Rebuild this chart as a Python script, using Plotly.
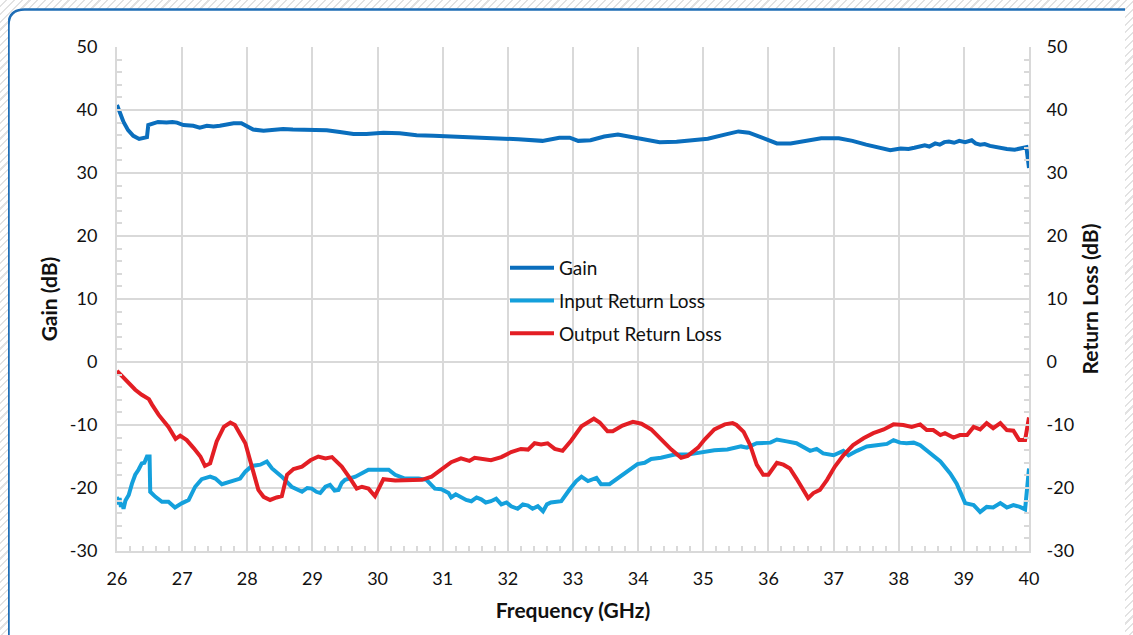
import plotly.graph_objects as go

# ---------------- data ----------------
gain_f = [26.0, 26.1, 26.17, 26.25, 26.34, 26.46, 26.48, 26.55, 26.63, 26.76, 26.85, 26.92, 27.02, 27.17,
          27.27, 27.38, 27.48, 27.58, 27.7, 27.79, 27.91, 27.99, 28.09, 28.25, 28.4, 28.55, 28.7, 28.81,
          29.01, 29.22, 29.42, 29.63, 29.83, 30.09, 30.34, 30.6, 30.86, 31.11, 31.37, 31.62, 31.89, 32.16,
          32.53, 32.79, 32.95, 33.08, 33.27, 33.48, 33.69, 33.9, 34.12, 34.33, 34.59, 34.86, 35.07, 35.33,
          35.54, 35.7, 35.92, 36.13, 36.34, 36.55, 36.81, 37.08, 37.29, 37.5, 37.71, 37.87, 38.03, 38.15,
          38.24, 38.32, 38.4, 38.47, 38.56, 38.63, 38.7, 38.77, 38.85, 38.93, 39.02, 39.12, 39.18, 39.25,
          39.32, 39.4, 39.48, 39.57, 39.66, 39.78, 39.88, 39.96, 40.0]
gain_db = [40.8, 38.1, 36.8, 35.9, 35.4, 35.7, 37.6, 37.9, 38.1, 38.0, 38.1, 38.0, 37.6, 37.5,
           37.2, 37.5, 37.4, 37.5, 37.7, 37.9, 37.9, 37.5, 36.9, 36.7, 36.8, 37.0, 36.9, 36.9,
           36.8, 36.8, 36.5, 36.2, 36.2, 36.4, 36.3, 36.0, 35.9, 35.8, 35.7, 35.7, 35.6, 35.35,
           35.1, 35.6, 35.6, 35.1, 35.2, 35.8, 36.1, 35.7, 35.2, 34.9, 34.97, 35.2, 35.45, 36.1,
           36.6, 36.4, 35.45, 34.7, 34.7, 35.1, 35.5, 35.5, 35.1, 34.5, 33.9, 33.6, 33.9, 33.8,
           34.0, 34.2, 34.4, 34.2, 34.7, 34.5, 34.9, 35.0, 34.8, 35.1, 34.9, 35.2, 34.7, 34.5,
           34.6, 34.3, 34.1, 33.9, 33.8, 33.7, 33.9, 34.1, 30.8]

irl_f = [26.0, 26.02, 26.04, 26.06, 26.08, 26.1, 26.13, 26.18, 26.23, 26.28, 26.33, 26.38, 26.42, 26.46,
         26.5, 26.51, 26.59, 26.69, 26.79, 26.89, 27.0, 27.1, 27.2, 27.3, 27.43, 27.51, 27.61, 27.76,
         27.89, 27.97, 28.07, 28.2, 28.3, 28.38, 28.53, 28.68, 28.84, 28.92, 28.99, 29.06, 29.12, 29.2,
         29.27, 29.34, 29.4, 29.45, 29.5, 29.66, 29.86, 30.01, 30.17, 30.27, 30.42, 30.63, 30.75, 30.88,
         30.98, 31.09, 31.13, 31.2, 31.28, 31.36, 31.44, 31.52, 31.59, 31.66, 31.74, 31.82, 31.9, 31.98,
         32.05, 32.15, 32.23, 32.31, 32.38, 32.46, 32.54, 32.6, 32.66, 32.82, 32.95, 33.05, 33.13, 33.23,
         33.36, 33.43, 33.56, 33.69, 33.79, 33.89, 33.99, 34.1, 34.2, 34.35, 34.56, 34.76, 34.96, 35.17,
         35.37, 35.58, 35.67, 35.82, 36.03, 36.13, 36.28, 36.43, 36.64, 36.74, 36.84, 37.0, 37.15, 37.23,
         37.36, 37.51, 37.66, 37.82, 37.92, 38.02, 38.12, 38.23, 38.33, 38.48, 38.64, 38.79, 38.89, 39.02,
         39.15, 39.25, 39.35, 39.45, 39.56, 39.66, 39.76, 39.86, 39.94, 40.0]
irl_db = [-21.4, -22.6, -21.6, -23.0, -22.4, -23.3, -22.0, -21.1, -19.3, -17.9, -17.1, -16.1, -16.0, -15.0,
          -15.0, -20.6, -21.4, -22.2, -22.2, -23.1, -22.4, -21.9, -19.8, -18.6, -18.2, -18.5, -19.4, -19.0,
          -18.5, -17.4, -16.5, -16.3, -15.8, -16.9, -18.2, -19.8, -20.6, -20.0, -20.1, -20.6, -20.8, -19.8,
          -19.5, -20.4, -20.3, -19.2, -18.7, -18.2, -17.1, -17.1, -17.1, -17.9, -18.5, -18.5, -18.7, -20.1,
          -20.2, -20.8, -21.5, -21.0, -21.4, -21.9, -22.1, -21.5, -21.8, -22.3, -22.1, -21.7, -22.6, -22.3,
          -22.9, -23.3, -22.6, -22.8, -23.3, -22.9, -23.7, -22.6, -22.3, -22.1, -20.2, -18.9, -18.2, -18.9,
          -18.4, -19.4, -19.4, -18.4, -17.8, -17.0, -16.2, -16.0, -15.4, -15.2, -14.7, -14.7, -14.3, -14.0,
          -13.9, -13.4, -13.6, -12.9, -12.8, -12.3, -12.6, -12.9, -14.1, -13.8, -14.5, -14.8, -14.1, -14.8,
          -14.1, -13.4, -13.2, -13.0, -12.4, -12.8, -12.9, -12.8, -13.2, -14.4, -15.8, -17.7, -19.3, -22.4,
          -22.7, -23.8, -23.0, -23.1, -22.4, -23.1, -22.7, -23.0, -23.4, -16.9]

orl_f = [26.0, 26.13, 26.28, 26.38, 26.49, 26.54, 26.64, 26.79, 26.9, 26.97, 27.07, 27.18, 27.28, 27.35,
         27.43, 27.53, 27.64, 27.74, 27.81, 27.97, 28.07, 28.17, 28.25, 28.35, 28.45, 28.53, 28.61, 28.71,
         28.84, 28.97, 29.09, 29.2, 29.3, 29.45, 29.58, 29.68, 29.76, 29.86, 29.96, 30.09, 30.27, 30.47,
         30.68, 30.83, 30.98, 31.13, 31.28, 31.41, 31.49, 31.64, 31.74, 31.9, 32.05, 32.2, 32.31, 32.41,
         32.51, 32.61, 32.72, 32.84, 32.97, 33.13, 33.23, 33.32, 33.41, 33.53, 33.61, 33.76, 33.92, 34.05,
         34.2, 34.35, 34.51, 34.66, 34.76, 34.92, 35.02, 35.17, 35.33, 35.45, 35.51, 35.62, 35.72, 35.82,
         35.92, 36.0, 36.13, 36.23, 36.33, 36.43, 36.54, 36.61, 36.69, 36.79, 36.9, 37.02, 37.15, 37.3,
         37.46, 37.61, 37.77, 37.92, 38.07, 38.2, 38.33, 38.43, 38.53, 38.64, 38.71, 38.84, 38.94, 39.05,
         39.15, 39.25, 39.35, 39.45, 39.56, 39.66, 39.76, 39.85, 39.94, 40.0]
orl_db = [-1.4, -2.9, -4.4, -5.2, -5.9, -6.8, -8.4, -10.3, -12.2, -11.7, -12.4, -13.7, -15.0, -16.5,
          -16.1, -12.6, -10.3, -9.6, -10.0, -12.9, -16.6, -20.3, -21.4, -21.9, -21.5, -21.3, -17.9, -17.0,
          -16.6, -15.6, -15.0, -15.3, -15.1, -16.6, -18.5, -20.1, -19.8, -20.1, -21.3, -18.6, -18.8, -18.8,
          -18.7, -18.2, -17.1, -15.9, -15.3, -15.7, -15.2, -15.4, -15.6, -15.1, -14.3, -13.8, -13.9, -12.9,
          -13.1, -12.9, -13.8, -14.1, -12.5, -10.2, -9.6, -9.0, -9.6, -11.0, -11.0, -10.1, -9.5, -9.8,
          -10.7, -12.3, -13.9, -15.2, -14.9, -13.6, -12.3, -10.7, -9.9, -9.7, -10.0, -11.1, -13.2, -16.3,
          -17.9, -17.9, -16.0, -16.3, -16.9, -18.5, -20.3, -21.6, -20.8, -20.3, -18.7, -16.6, -14.8, -13.2,
          -12.1, -11.3, -10.7, -9.9, -10.0, -10.3, -9.9, -10.8, -10.8, -11.6, -11.3, -12.0, -11.6, -11.6,
          -10.3, -10.7, -9.7, -10.5, -9.7, -10.8, -10.9, -12.4, -12.4, -8.8]

x_ticks = [26, 27, 28, 29, 30, 31, 32, 33, 34, 35, 36, 37, 38, 39, 40]
y_ticks = [-30, -20, -10, 0, 10, 20, 30, 40, 50]

# ---------------- layout geometry (page pixels; body has an 8px margin) ----------------
OFF = 8
W, H = 1133 - OFF, 635 - OFF
L, R, T, B = 117 - OFF, 1029 - OFF, 47 - OFF, 551 - OFF


def px(x):
    """page x pixel -> paper coordinate"""
    return (x - OFF - L) / (R - L)


def py(y):
    """page y pixel -> paper coordinate"""
    return (B - (y - OFF)) / (B - T)


FONT = "Lato"
GRID = "#d9d9d9"
TXT = "#111111"

fig = go.Figure()
fig.add_trace(go.Scatter(x=gain_f, y=gain_db, mode="lines", name="Gain",
                         line=dict(color="#0a6ebd", width=4), legendgroup="a"))
fig.add_trace(go.Scatter(x=irl_f, y=irl_db, mode="lines", name="Input Return Loss",
                         line=dict(color="#14a0dc", width=4), yaxis="y2", legendgroup="b"))
fig.add_trace(go.Scatter(x=orl_f, y=orl_db, mode="lines", name="Output Return Loss",
                         line=dict(color="#e31e24", width=4), yaxis="y2", legendgroup="c"))

# rounded white card (page pixel coords)
x0, y0, x1, y1, r = 8.5, 9.5, 1150, 650, 16
card = (f"M{px(x0 + r)},{py(y0)} L{px(x1 - r)},{py(y0)} "
        f"Q{px(x1)},{py(y0)} {px(x1)},{py(y0 + r)} "
        f"L{px(x1)},{py(y1 - r)} Q{px(x1)},{py(y1)} {px(x1 - r)},{py(y1)} "
        f"L{px(x0 + r)},{py(y1)} Q{px(x0)},{py(y1)} {px(x0)},{py(y1 - r)} "
        f"L{px(x0)},{py(y0 + r)} Q{px(x0)},{py(y0)} {px(x0 + r)},{py(y0)} Z")

shapes = [
    dict(type="path", xref="paper", yref="paper", path=card,
         fillcolor="white", line=dict(color="#1f6db5", width=2.5), layer="below"),
]

axis_common = dict(
    showline=True, linecolor=GRID, linewidth=2,
    gridcolor=GRID, gridwidth=2,
    ticks="inside", ticklen=5, tickcolor=GRID, tickwidth=1.5,
    tickfont=dict(family=FONT, size=18, color=TXT),
    zeroline=False,
)
title_font = dict(family=FONT, size=21, color=TXT)

fig.update_layout(
    width=W, height=H,
    margin=dict(l=L, r=W - R, t=T, b=H - B),
    paper_bgcolor="rgba(0,0,0,0)", plot_bgcolor="rgba(0,0,0,0)",
    font=dict(family=FONT, color=TXT),
    shapes=shapes,
    showlegend=True,
    legend=dict(x=px(505), y=py(249), xanchor="left", yanchor="top",
                bgcolor="rgba(0,0,0,0)", font=dict(family=FONT, size=19, color=TXT),
                tracegroupgap=5, itemwidth=44),
    xaxis=dict(range=[26, 40], tickvals=x_ticks, ticktext=[str(v) for v in x_ticks],
               title=dict(text="<b>Frequency (GHz)</b>", font=title_font, standoff=16),
               minor=dict(dtick=0.2, ticks="inside", ticklen=5, tickcolor=GRID, showgrid=False),
               ticklabelstandoff=10, showgrid=True,
               **axis_common),
    yaxis=dict(range=[-30, 50], tickvals=y_ticks, ticktext=[str(v) for v in y_ticks],
               title=dict(text="<b>Gain (dB)</b>", font=title_font, standoff=6),
               minor=dict(dtick=2, ticks="inside", ticklen=5, tickcolor=GRID, showgrid=False),
               ticklabelstandoff=14, showgrid=True,
               **axis_common),
    yaxis2=dict(range=[-30, 50], tickvals=y_ticks, ticktext=[str(v) for v in y_ticks],
                overlaying="y", side="right",
                title=dict(text="<b>Return Loss (dB)</b>", font=title_font, standoff=10),
                minor=dict(dtick=2, ticks="inside", ticklen=5, tickcolor=GRID, showgrid=False),
                ticklabelstandoff=12, showgrid=False,
                **axis_common),
)

hatch_css = ("document.body.style.background="
             "'repeating-linear-gradient(135deg, #ffffff 0px, #ffffff 4px, #e2e2e2 4px, #e2e2e2 5.5px)';")
fig.write_html("out.html", post_script=hatch_css)
